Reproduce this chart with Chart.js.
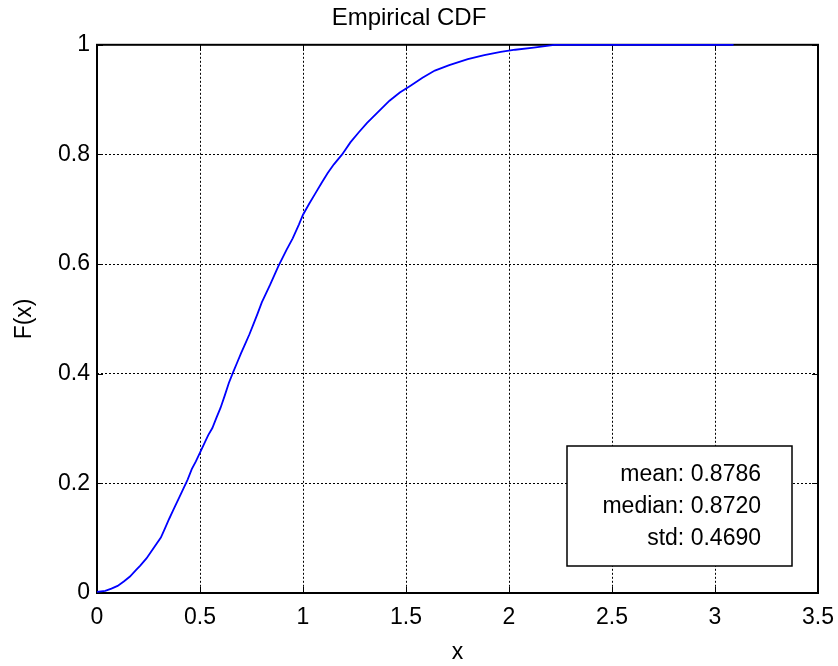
<!DOCTYPE html>
<html>
<head>
<meta charset="utf-8">
<title>Empirical CDF</title>
<script src="https://cdn.jsdelivr.net/npm/chart.js@4.4.1/dist/chart.umd.min.js"></script>
<style>
html,body{margin:0;padding:0;background:#fff;}
canvas{display:block;}
</style>
</head>
<body>
<canvas id="cdf" width="838" height="666"></canvas>
<script>

// sample points of the empirical CDF (x, F(x))
const cdfX=[0,0.04,0.07,0.10,0.13,0.16,0.19,0.21,0.24,0.26,0.28,0.31,0.33,0.35,0.37,0.40,0.42,0.44,0.46,0.48,
0.50,0.52,0.54,0.56,0.58,0.60,0.62,0.64,0.66,0.68,0.70,0.72,0.74,0.76,0.78,0.80,0.82,0.84,0.86,0.88,
0.90,0.92,0.95,0.98,1.00,1.03,1.06,1.09,1.12,1.15,1.19,1.23,1.27,1.31,1.36,1.42,1.47,1.52,1.58,1.64,
1.71,1.80,1.88,1.96,2.03,2.12,2.22,3.09];
const cdfF=[0.002,0.004,0.008,0.013,0.021,0.030,0.042,0.050,0.063,0.074,0.085,0.101,0.118,0.135,0.151,0.175,0.191,0.207,0.226,0.240,
0.256,0.272,0.288,0.301,0.320,0.338,0.360,0.383,0.402,0.420,0.438,0.455,0.472,0.491,0.510,0.530,0.546,0.562,0.579,0.596,
0.611,0.626,0.647,0.672,0.690,0.710,0.729,0.748,0.766,0.782,0.800,0.822,0.840,0.857,0.876,0.898,0.913,0.925,0.940,0.953,
0.963,0.974,0.981,0.987,0.991,0.995,1.0,1.0];

const xTicks=[0,0.5,1,1.5,2,2.5,3,3.5];
const yTicks=[0,0.2,0.4,0.6,0.8,1];
const statsLines=["mean: 0.8786","median: 0.8720","std: 0.4690"];

const FONT='Arial, "Liberation Sans", sans-serif';

// MATLAB-like box: solid frame plus short inward ticks on all four sides
const axesBox={
id:"axesBox",
beforeDatasetsDraw(chart){
const {ctx,chartArea:a,scales}=chart;
ctx.save();
ctx.strokeStyle="#000";
ctx.lineWidth=1;
ctx.beginPath();
xTicks.forEach(v=>{
let px=Math.round(scales.x.getPixelForValue(v))+0.5;
ctx.moveTo(px,a.top);ctx.lineTo(px,a.top+6);
ctx.moveTo(px,a.bottom);ctx.lineTo(px,a.bottom-6);
});
yTicks.forEach(v=>{
let py=Math.round(scales.y.getPixelForValue(v))+0.5;
ctx.moveTo(a.left,py);ctx.lineTo(a.left+6,py);
ctx.moveTo(a.right,py);ctx.lineTo(a.right-6,py);
});
ctx.stroke();
ctx.lineWidth=2;
ctx.strokeRect(a.left,a.top,a.right-a.left,a.bottom-a.top);
ctx.restore();
},
afterDatasetsDraw(chart){
// summary statistics box, lower right
const {ctx,chartArea:a}=chart;
let w=225,h=120;
let bx=a.right-26-w,by=a.bottom-27-h;
ctx.save();
ctx.fillStyle="#fff";
ctx.fillRect(bx,by,w,h);
ctx.strokeStyle="#000";
ctx.lineWidth=1.5;
ctx.strokeRect(bx,by,w,h);
ctx.fillStyle="#000";
ctx.font="23px "+FONT;
ctx.textAlign="right";
ctx.textBaseline="middle";
statsLines.forEach((t,i)=>{
ctx.fillText(t,bx+w-31,by+29+32*i);
});
ctx.restore();
}
};

const fmt=v=>String(+Number(v).toFixed(2));

new Chart(document.getElementById("cdf"),{
type:"scatter",
data:{
datasets:[{
data:cdfX.map((x,i)=>({x:x,y:cdfF[i]})),
showLine:true,
borderColor:"#0000ff",
borderWidth:1.8,
pointRadius:0,
tension:0,
clip:4
}]
},
options:{
responsive:false,
animation:false,
layout:{padding:{left:0,right:20,top:0,bottom:0}},
plugins:{
legend:{display:false},
tooltip:{enabled:false},
title:{
display:true,
text:"Empirical CDF",
color:"#000",
font:{family:FONT,size:24,weight:"normal"},
padding:{top:4,bottom:12}
}
},
scales:{
x:{
type:"linear",
min:0,max:3.5,
afterFit(s){s.height=73;s.paddingLeft=0;s.paddingRight=0;},
afterBuildTicks(s){s.ticks=xTicks.map(v=>({value:v}));},
ticks:{color:"#000",font:{family:FONT,size:23},padding:11,callback:fmt,maxRotation:0},
grid:{color:"#000",lineWidth:1,drawTicks:false},
border:{display:false,dash:[2,2]},
title:{display:true,text:"x",color:"#000",font:{family:FONT,size:23},padding:{top:0,bottom:0}}
},
y:{
type:"linear",
min:0,max:1,
afterFit(s){s.width=97;s.paddingTop=0;s.paddingBottom=0;},
afterBuildTicks(s){s.ticks=yTicks.map(v=>({value:v}));},
ticks:{color:"#000",font:{family:FONT,size:23},padding:7,callback:fmt},
grid:{color:"#000",lineWidth:1,drawTicks:false},
border:{display:false,dash:[2,2]},
title:{display:true,text:"F(x)",color:"#000",font:{family:FONT,size:23},padding:{top:11,bottom:0}}
}
}
},
plugins:[axesBox]
});

</script>
</body>
</html>
